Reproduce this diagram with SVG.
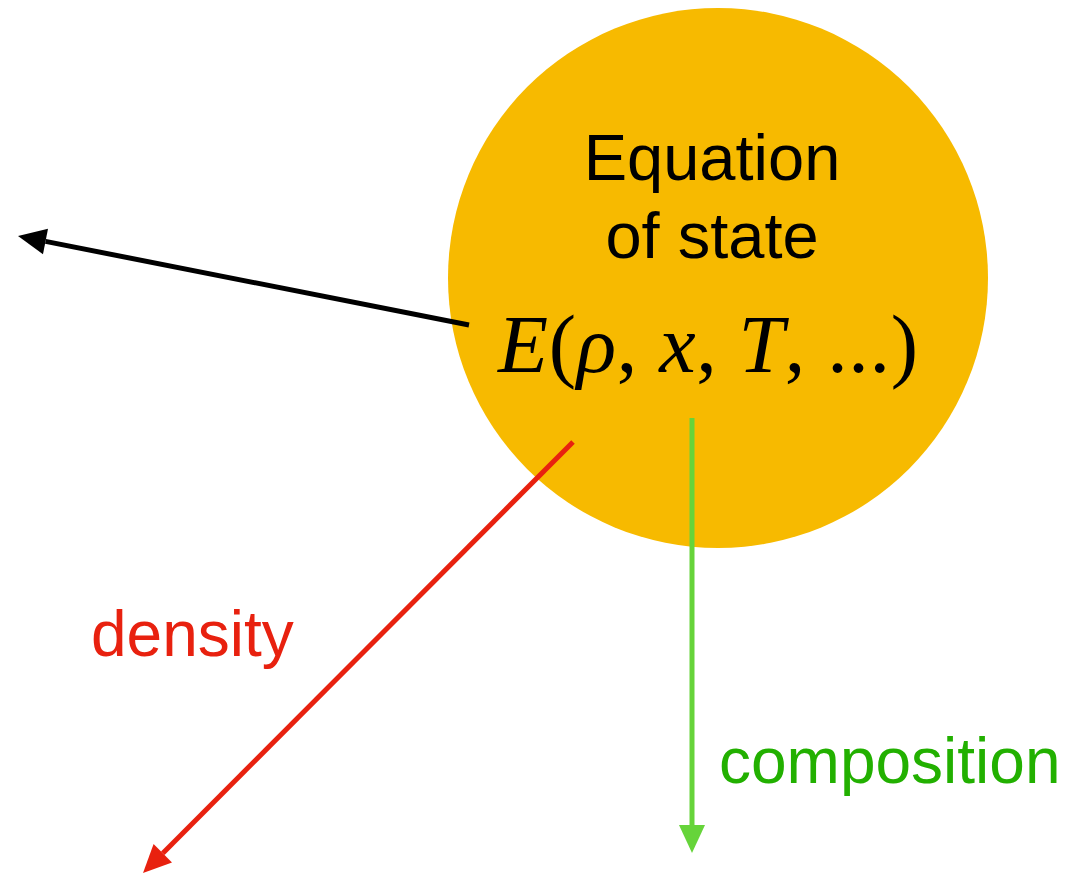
<svg xmlns="http://www.w3.org/2000/svg" width="1066" height="876" viewBox="0 0 1066 876">
  <style>
    .sans { font-family: "Liberation Sans", Arial, sans-serif; }
    .title { font-size: 65px; fill: #000; text-anchor: middle; }
    .math { font-family: "Liberation Serif", "Times New Roman", serif; font-size: 82px; fill: #000; }
    .it { font-style: italic; }
    .lbl { font-size: 64px; }
  </style>
  <defs>
    <marker id="hk" markerUnits="userSpaceOnUse" markerWidth="30" markerHeight="30" viewBox="0 -14 30 28" refX="0" refY="0" orient="auto" overflow="visible">
      <path d="M0,-13 L28,0 L0,13 z" fill="#000"/>
    </marker>
    <marker id="hr" markerUnits="userSpaceOnUse" markerWidth="30" markerHeight="30" viewBox="0 -14 30 28" refX="0" refY="0" orient="auto" overflow="visible">
      <path d="M0,-13 L28,0 L0,13 z" fill="#E8210F"/>
    </marker>
    <marker id="hg" markerUnits="userSpaceOnUse" markerWidth="30" markerHeight="30" viewBox="0 -14 30 28" refX="0" refY="0" orient="auto" overflow="visible">
      <path d="M0,-13 L28,0 L0,13 z" fill="#66D43A"/>
    </marker>
  </defs>

  <g id="eos">
    <circle cx="718" cy="278" r="270" fill="#F7BA00"/>
    <text class="sans title" x="712" y="180">Equation</text>
    <text class="sans title" x="712" y="258">of state</text>
    <text class="math" x="498" y="372" textLength="420" lengthAdjust="spacing"><tspan class="it">E</tspan>(<tspan class="it">ρ</tspan>, <tspan class="it">x</tspan>, <tspan class="it">T</tspan>, ...)</text>
  </g>

  <g id="connectors" fill="none" stroke-width="5">
    <line x1="469" y1="325" x2="45.5" y2="241.4" stroke="#000" marker-end="url(#hk)"/>
    <line x1="573" y1="442" x2="162.8" y2="853.2" stroke="#E8210F" marker-end="url(#hr)"/>
    <line x1="692" y1="418" x2="692" y2="825" stroke="#66D43A" marker-end="url(#hg)"/>
  </g>

  <g id="label-density">
    <text class="sans lbl" x="91" y="656" fill="#E8210F">density</text>
  </g>
  <g id="label-composition">
    <text class="sans lbl" x="719" y="783" fill="#22B000">composition</text>
  </g>
</svg>
